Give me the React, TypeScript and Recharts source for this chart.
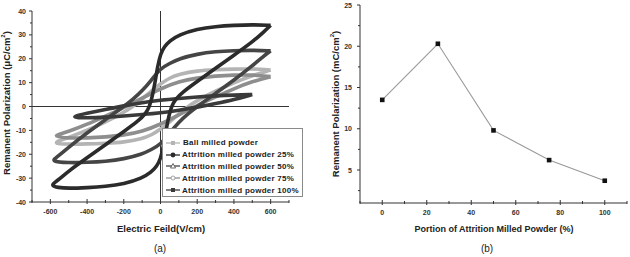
import React from 'react';
import { LineChart, Line, XAxis, YAxis, ReferenceLine } from 'recharts';

// hysteresis loops, [E (V/cm), P (uC/cm2)], upper branch then lower branch
const ballMilledLoop: [number, number][] = [
  [600, 15.3], [500, 15.8], [400, 15.7], [300, 15.4], [200, 15], [100, 13.5], [50, 12], [0, 9.5],
  [-50, 6.5], [-100, 3], [-150, 0], [-200, -2.5], [-300, -6.5], [-400, -10], [-500, -13], [-600, -15.5],
  [-500, -15.8], [-400, -15.7], [-300, -15.4], [-200, -15], [-100, -13.5], [-50, -12], [0, -9.5],
  [50, -6.5], [100, -3], [150, 0], [200, 2.5], [300, 6.5], [400, 10], [500, 13], [600, 15.3],
];
const attrition25Loop: [number, number][] = [
  [600, 34], [500, 34.3], [400, 34], [300, 33.5], [200, 32.5], [100, 30], [50, 27.5], [20, 25], [0, 22],
  [-15, 17], [-30, 10], [-45, 4], [-60, 0], [-80, -3], [-120, -6], [-200, -10.5], [-300, -16],
  [-400, -21.5], [-500, -27], [-560, -31], [-600, -33],
  [-560, -34], [-500, -34.3], [-400, -34], [-300, -33.5], [-200, -32.5], [-100, -30], [-50, -27.5],
  [-20, -25], [0, -22], [15, -17], [30, -10], [45, -4], [60, 0], [80, 3], [120, 6], [200, 10.5],
  [300, 16], [400, 21.5], [500, 27], [560, 31], [600, 34],
];
const attrition50Loop: [number, number][] = [
  [600, 23.3], [500, 23.6], [400, 23.4], [300, 23], [200, 22], [100, 20], [50, 18], [0, 16],
  [-50, 11], [-100, 6.5], [-150, 3], [-200, 0], [-300, -5.5], [-400, -11], [-500, -17], [-560, -21], [-600, -23],
  [-500, -23.6], [-400, -23.4], [-300, -23], [-200, -22], [-100, -20], [-50, -18], [0, -16],
  [50, -11], [100, -6.5], [150, -3], [200, 0], [300, 5.5], [400, 11], [500, 17], [560, 21], [600, 23.3],
];
const attrition75Loop: [number, number][] = [
  [600, 12.5], [500, 13.3], [400, 13.2], [300, 12.8], [200, 12], [100, 10.5], [0, 7.5],
  [-100, 3.5], [-200, -0.5], [-300, -4], [-400, -7.5], [-500, -10.5], [-600, -12.5],
  [-500, -13.3], [-400, -13.2], [-300, -12.8], [-200, -12], [-100, -10.5], [0, -7.5],
  [100, -3.5], [200, 0.5], [300, 4], [400, 7.5], [500, 10.5], [600, 12.5],
];
const attrition100Loop: [number, number][] = [
  [500, 5], [400, 4.8], [300, 4.5], [200, 4], [100, 3.4], [0, 2.7], [-100, 1.6], [-200, 0.3],
  [-300, -1.2], [-400, -2.8], [-500, -4.6],
  [-400, -4.8], [-300, -4.5], [-200, -4], [-100, -3.4], [0, -2.7], [100, -1.6], [200, -0.3],
  [300, 1.2], [400, 2.8], [500, 5],
];

const seriesNames = [
  'Ball milled powder',
  'Attrition milled powder 25%',
  'Attrition milled powder 50%',
  'Attrition milled powder 75%',
  'Attrition milled powder 100%',
];

const fieldTicks = [-700, -600, -500, -400, -300, -200, -100, 0, 100, 200, 300, 400, 500, 600, 700];
const fieldLabels = [-600, -400, -200, 0, 200, 400, 600];
const polTicks = [-40, -35, -30, -25, -20, -15, -10, -5, 0, 5, 10, 15, 20, 25, 30, 35, 40];
const polLabels = [-40, -30, -20, -10, 0, 10, 20, 30, 40];

// panel (b)
const portion = [0, 25, 50, 75, 100];
const remanent = [13.5, 20.3, 9.8, 6.2, 3.7];
const portionTicks = [-10, 0, 10, 20, 30, 40, 50, 60, 70, 80, 90, 100, 110];
const portionLabels = [0, 20, 40, 60, 80, 100];
const remTicks = [2.5, 5, 7.5, 10, 12.5, 15, 17.5, 20, 22.5, 25];
const remLabels = [5, 10, 15, 20, 25];

const FONT = '"Liberation Sans", Arial, sans-serif';

const toPoints = (loop: [number, number][]) => loop.map(([e, p]) => ({ e, p }));

const loops = [
  { name: seriesNames[0], data: toPoints(ballMilledLoop), color: '#b4b4b4', marker: 'square' },
  { name: seriesNames[3], data: toPoints(attrition75Loop), color: '#8e8e8e', marker: 'ocircle' },
  { name: seriesNames[2], data: toPoints(attrition50Loop), color: '#454545', marker: 'triangle' },
  { name: seriesNames[4], data: toPoints(attrition100Loop), color: '#3a3a3a', marker: 'square' },
  { name: seriesNames[1], data: toPoints(attrition25Loop), color: '#2b2b2b', marker: 'circle' },
];

const legendOrder = [0, 4, 2, 1, 3];

const bChart = portion.map((x, i) => ({ x, y: remanent[i] }));

const makeBottomTick = (labels: number[]) => (props: any) => {
  const { x, y, payload } = props;
  const major = labels.includes(payload.value);
  return (
    <g>
      <line x1={x} x2={x} y1={y - (major ? 3 : 2)} y2={y + (major ? 2 : 1)} stroke="#333" />
      {major && (
        <text x={x} y={y + 12} textAnchor="middle" fontSize={7} fontWeight="bold" fill="#333" fontFamily={FONT}>
          {payload.value}
        </text>
      )}
    </g>
  );
};

const makeLeftTick = (labels: number[], offset: number) => (props: any) => {
  const { x, y, payload } = props;
  const major = labels.includes(payload.value);
  return (
    <g>
      <line x1={x - (major ? 3 : 2)} x2={x} y1={y} y2={y} stroke="#333" />
      {major && (
        <text x={x - offset} y={y + 2.5} textAnchor="end" fontSize={7} fontWeight="bold" fill="#333" fontFamily={FONT}>
          {payload.value}
        </text>
      )}
    </g>
  );
};

const SquareDot = (props: any) => {
  const { cx, cy } = props;
  if (cx == null || cy == null) return null;
  return <rect x={cx - 2.3} y={cy - 2.3} width={4.6} height={4.6} fill="#111" />;
};

const Marker = ({ kind, color }: { kind: string; color: string }) => {
  return (
    <svg width={14} height={8} style={{ marginRight: 2, flexShrink: 0 }}>
      <line x1={0} x2={14} y1={4} y2={4} stroke={color} strokeWidth={1.3} />
      {kind === 'square' && <rect x={5} y={2} width={4} height={4} fill={color} />}
      {kind === 'circle' && <circle cx={7} cy={4} r={2.4} fill={color} />}
      {kind === 'triangle' && <polygon points="7,1.5 9.5,6 4.5,6" fill="#fff" stroke={color} strokeWidth={0.8} />}
      {kind === 'ocircle' && <circle cx={7} cy={4} r={2} fill="#fff" stroke={color} strokeWidth={0.8} />}
    </svg>
  );
};

const titleStyle: React.CSSProperties = {
  position: 'absolute',
  fontFamily: FONT,
  fontWeight: 'bold',
  color: '#222',
  whiteSpace: 'nowrap',
};

export default function App() {
  return (
    <div style={{ position: 'absolute', left: 0, top: 0, width: 630, height: 257, background: '#fff', overflow: 'hidden' }}>
      <div style={{ position: 'absolute', left: 0, top: 0 }}>
        <LineChart width={320} height={257} margin={{ top: 11, right: 31, bottom: 0, left: 0 }}>
          <XAxis
            dataKey="e"
            type="number"
            domain={[-700, 700]}
            ticks={fieldTicks}
            interval={0}
            allowDataOverflow
            height={55}
            tickSize={0}
            tickMargin={0}
            axisLine={{ stroke: '#333' }}
            tick={makeBottomTick(fieldLabels)}
          />
          <XAxis xAxisId="top" orientation="top" type="number" domain={[-700, 700]} height={0} tick={false} tickLine={false} axisLine={{ stroke: '#333' }} />
          <YAxis
            type="number"
            domain={[-40, 40]}
            ticks={polTicks}
            interval={0}
            width={32}
            tickSize={0}
            tickMargin={0}
            axisLine={{ stroke: '#333' }}
            tick={makeLeftTick(polLabels, 6)}
          />
          <YAxis yAxisId="right" orientation="right" type="number" domain={[-40, 40]} width={0} tick={false} tickLine={false} axisLine={{ stroke: '#333' }} />
          <ReferenceLine x={0} stroke="#333" />
          <ReferenceLine y={0} stroke="#333" />
          {loops.map((l) => (
            <Line
              key={l.name}
              data={l.data}
              dataKey="p"
              name={l.name}
              type="basis"
              stroke={l.color}
              strokeWidth={3.6}
              strokeLinejoin="round"
              dot={false}
              isAnimationActive={false}
            />
          ))}
        </LineChart>
      </div>

      <div
        style={{
          position: 'absolute',
          left: 162,
          top: 128,
          width: 141,
          height: 69,
          border: '1px solid #8a8a8a',
          background: '#fff',
          boxSizing: 'border-box',
          paddingTop: 8,
          paddingLeft: 3,
        }}
      >
        {legendOrder.map((idx) => {
          const l = loops[idx];
          return (
            <div key={l.name} style={{ display: 'flex', alignItems: 'center', height: 11.8 }}>
              <Marker kind={l.marker} color={l.color} />
              <span style={{ fontFamily: FONT, fontWeight: 'bold', fontSize: 8, letterSpacing: 0.25, color: '#222', marginLeft: idx === 0 ? 1 : 0 }}>
                {l.name}
              </span>
            </div>
          );
        })}
      </div>

      <div style={{ ...titleStyle, left: 6, top: 103, fontSize: 9.5, transform: 'translate(-50%, -50%) rotate(-90deg)' }}>
        Remanent Polarization (μC/cm<sup style={{ fontSize: 6 }}>2</sup>)
      </div>
      <div style={{ ...titleStyle, left: 161, top: 228, fontSize: 9.5, transform: 'translate(-50%, -50%)' }}>
        Electric Feild(V/cm)
      </div>
      <div style={{ ...titleStyle, left: 160, top: 248, fontSize: 10, fontWeight: 'normal', transform: 'translate(-50%, -50%)' }}>
        (a)
      </div>

      <div style={{ position: 'absolute', left: 320, top: 0 }}>
        <LineChart width={310} height={257} data={bChart} margin={{ top: 5, right: 3, bottom: 0, left: 0 }}>
          <XAxis
            dataKey="x"
            type="number"
            domain={[-10, 110]}
            ticks={portionTicks}
            interval={0}
            height={54}
            tickSize={0}
            tickMargin={0}
            axisLine={{ stroke: '#333' }}
            tick={makeBottomTick(portionLabels)}
          />
          <XAxis xAxisId="top" orientation="top" type="number" domain={[-10, 110]} height={0} tick={false} tickLine={false} axisLine={{ stroke: '#333' }} />
          <YAxis
            type="number"
            domain={[1, 25]}
            ticks={remTicks}
            interval={0}
            width={40}
            tickSize={0}
            tickMargin={0}
            axisLine={{ stroke: '#333' }}
            tick={makeLeftTick(remLabels, 8)}
          />
          <YAxis yAxisId="right" orientation="right" type="number" domain={[1, 25]} width={0} tick={false} tickLine={false} axisLine={{ stroke: '#333' }} />
          <Line dataKey="y" type="linear" stroke="#999" strokeWidth={1.1} dot={<SquareDot />} isAnimationActive={false} />
        </LineChart>
      </div>

      <div style={{ ...titleStyle, left: 335, top: 104, fontSize: 9.5, transform: 'translate(-50%, -50%) rotate(-90deg)' }}>
        Remanent Polarization (mC/cm<sup style={{ fontSize: 6 }}>2</sup>)
      </div>
      <div style={{ ...titleStyle, left: 494, top: 229, fontSize: 9, transform: 'translate(-50%, -50%)' }}>
        Portion of Attrition Milled Powder (%)
      </div>
      <div style={{ ...titleStyle, left: 487, top: 248, fontSize: 10, fontWeight: 'normal', transform: 'translate(-50%, -50%)' }}>
        (b)
      </div>
    </div>
  );
}
